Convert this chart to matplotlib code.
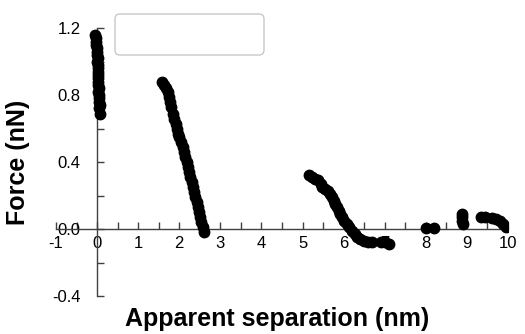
import matplotlib
matplotlib.use('Agg')
import matplotlib.pyplot as plt
from matplotlib.patches import FancyBboxPatch
from matplotlib.ticker import MultipleLocator

plt.rcParams['font.family'] = ['Liberation Sans', 'DejaVu Sans']
plt.rcParams['axes.unicode_minus'] = False

# Force curve segments (apparent separation in nm, force in nN)
sep_a = [-0.04, -0.03, -0.02, -0.03, -0.01, 0.0, -0.01, 0.01, 0.0, 0.02, 0.01,
         0.02, 0.03, 0.01, 0.03, 0.02, 0.04, 0.03, 0.05, 0.04, 0.05, 0.06, 0.05, 0.06]
force_a = [1.16, 1.14, 1.12, 1.10, 1.08, 1.06, 1.04, 1.02, 1.00, 0.98, 0.96,
           0.94, 0.92, 0.90, 0.88, 0.86, 0.84, 0.82, 0.80, 0.78, 0.76, 0.74, 0.72, 0.69]

sep_b = [1.59, 1.63, 1.68, 1.72, 1.75, 1.78, 1.81, 1.84, 1.88, 1.91, 1.94, 1.97,
         2.00, 2.04, 2.08, 2.12, 2.15, 2.18, 2.21, 2.24, 2.27, 2.30, 2.33, 2.36,
         2.39, 2.42, 2.45, 2.48, 2.51, 2.54, 2.57, 2.60]
force_b = [0.88, 0.86, 0.84, 0.82, 0.79, 0.76, 0.73, 0.69, 0.66, 0.63, 0.60, 0.57,
           0.55, 0.52, 0.49, 0.46, 0.43, 0.40, 0.37, 0.34, 0.31, 0.28, 0.25, 0.22,
           0.19, 0.16, 0.13, 0.10, 0.07, 0.04, 0.01, -0.02]

sep_c = [5.15, 5.22, 5.30, 5.38, 5.45, 5.48, 5.55, 5.62, 5.67, 5.72, 5.76, 5.80,
         5.84, 5.88, 5.92, 5.97, 6.02, 6.08, 6.14, 6.20, 6.27, 6.33, 6.40, 6.50,
         6.60, 6.70, 6.90, 7.00, 7.10]
force_c = [0.32, 0.31, 0.30, 0.29, 0.27, 0.25, 0.24, 0.23, 0.21, 0.19, 0.17, 0.15,
           0.13, 0.11, 0.09, 0.07, 0.05, 0.03, 0.01, -0.01, -0.03, -0.05, -0.06, -0.07,
           -0.075, -0.08, -0.075, -0.08, -0.09]

sep_d = [8.0, 8.2, 8.88, 8.88, 8.88, 8.9, 9.35, 9.45, 9.6, 9.7, 9.8, 9.88, 9.95]
force_d = [0.005, 0.005, 0.09, 0.07, 0.05, 0.03, 0.07, 0.07, 0.065, 0.06, 0.045, 0.03, 0.015]

fig = plt.figure(figsize=(5.25, 3.34), dpi=100)
ax = fig.add_axes([0.1067, 0.1138, 0.861, 0.802])

for xs, ys in [(sep_a, force_a), (sep_b, force_b), (sep_c, force_c), (sep_d, force_d)]:
    ax.plot(xs, ys, 'o', color='black', markersize=7.5, zorder=3)

ax.set_xlim(-1, 10)
ax.set_ylim(-0.4, 1.2)
ax.spines['left'].set_position(('data', 0))
ax.spines['bottom'].set_position(('data', 0))
ax.spines['top'].set_visible(False)
ax.spines['right'].set_visible(False)
for s in ['left', 'bottom']:
    ax.spines[s].set_color('#404040')
    ax.spines[s].set_linewidth(1.0)

ax.xaxis.set_major_locator(MultipleLocator(1))
ax.xaxis.set_minor_locator(MultipleLocator(0.5))
ax.yaxis.set_major_locator(MultipleLocator(0.4))
ax.yaxis.set_minor_locator(MultipleLocator(0.2))
ax.yaxis.set_major_formatter(plt.FormatStrFormatter('%.1f'))
ax.tick_params(which='both', direction='in', color='#404040', length=5, width=1)
ax.tick_params(axis='x', labelsize=12, pad=5)
ax.tick_params(axis='y', labelsize=12, pad=12)

ax.set_xlabel('Apparent separation (nm)', fontsize=18, fontweight='bold')
ax.set_ylabel('Force (nN)', fontsize=18, fontweight='bold')
ax.xaxis.set_label_coords(0.49, -0.04)
ax.yaxis.set_label_coords(-0.058, 0.5)

# empty legend box
box = FancyBboxPatch((1.15, 2.79), 1.49, 0.41, boxstyle='round,pad=0,rounding_size=0.05',
                     transform=fig.dpi_scale_trans, facecolor='white',
                     edgecolor='#c8c8c8', linewidth=1)
fig.patches.append(box)

fig.savefig('out.png', dpi=100)
